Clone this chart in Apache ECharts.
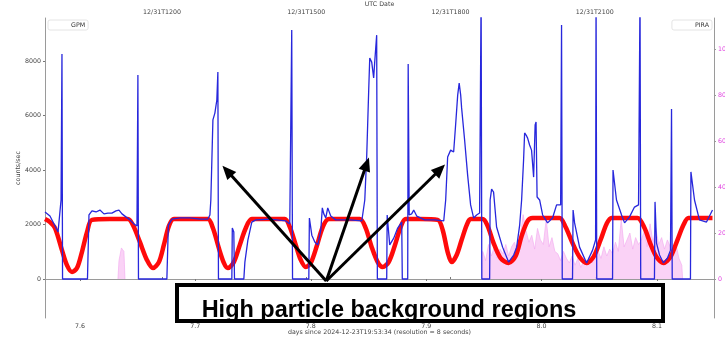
<!DOCTYPE html>
<html>
<head>
<meta charset="utf-8">
<script src="https://cdn.jsdelivr.net/npm/echarts@6/dist/echarts.min.js"></script>
<style>
html, body { margin: 0; padding: 0; background: #fff; }
#chart { width: 725px; height: 338px; }
</style>
</head>
<body>
<div id="chart"></div>
<script>
// GPM count rate (blue), days since 2024-12-23T19:53:34
var gpmDays = [7.5697, 7.5740, 7.5784, 7.5810, 7.5836, 7.5844, 7.5849, 7.6065, 7.6078, 7.6104,
  7.6139, 7.6173, 7.6208, 7.6242, 7.6277, 7.6312, 7.6338, 7.6364, 7.6398, 7.6433,
  7.6468, 7.6494, 7.6502, 7.6507, 7.6753, 7.6766, 7.6797, 7.6866, 7.6952, 7.7039,
  7.7108, 7.7126, 7.7134, 7.7143, 7.7152, 7.7169, 7.7177, 7.7186, 7.7195, 7.7200,
  7.7316, 7.7320, 7.7333, 7.7339, 7.7420, 7.7429, 7.7455, 7.7489, 7.7524, 7.7645,
  7.7784, 7.7818, 7.7835, 7.7842, 7.7983, 7.7988, 7.8009, 7.8035, 7.8061, 7.8087,
  7.8100, 7.8113, 7.8130, 7.8147, 7.8173, 7.8216, 7.8338, 7.8442, 7.8468, 7.8485,
  7.8502, 7.8511, 7.8528, 7.8545, 7.8554, 7.8571, 7.8577, 7.8658, 7.8662, 7.8684,
  7.8719, 7.8753, 7.8788, 7.8793, 7.8840, 7.8844, 7.8853, 7.8874, 7.8892, 7.8918,
  7.8987, 7.9074, 7.9152, 7.9169, 7.9186, 7.9212, 7.9238, 7.9255, 7.9273, 7.9286,
  7.9299, 7.9307, 7.9333, 7.9359, 7.9385, 7.9411, 7.9437, 7.9463, 7.9476, 7.9482,
  7.9550, 7.9554, 7.9567, 7.9584, 7.9610, 7.9662, 7.9714, 7.9758, 7.9784, 7.9810,
  7.9827, 7.9844, 7.9853, 7.9870, 7.9879, 7.9896, 7.9913, 7.9931, 7.9944, 7.9952,
  7.9961, 7.9983, 8.0009, 8.0052, 8.0095, 8.0130, 8.0165, 8.0173, 8.0179, 8.0268,
  8.0273, 8.0286, 8.0329, 8.0390, 8.0442, 8.0468, 8.0472, 8.0478, 8.0615, 8.0619,
  8.0649, 8.0693, 8.0719, 8.0762, 8.0805, 8.0840, 8.0853, 8.0859, 8.0978, 8.0983,
  8.0996, 8.1022, 8.1056, 8.1091, 8.1117, 8.1126, 8.1132, 8.1290, 8.1294, 8.1325,
  8.1368, 8.1429, 8.1481];
var gpmCounts = [2460, 2310, 1945, 1725, 2900, 8260, 0, 0, 2350, 2500,
  2460, 2530, 2390, 2420, 2420, 2500, 2530, 2390, 2280, 2170,
  2020, 1945, 7490, 0, 0, 1980, 2200, 2240, 2240, 2200,
  2200, 2350, 2900, 4370, 5840, 6090, 6020, 6570, 7600, 0,
  0, 1870, 1725, 0, 0, 620, 1430, 2090, 2170, 2200,
  2130, 2020, 9140, 0, 0, 2240, 1610, 1360, 1250, 1800,
  2610, 2390, 2240, 2610, 2310, 2170, 2170, 2130, 2900, 4550,
  6940, 8110, 7960, 7380, 7960, 8950, 0, 0, 2350, 1250,
  1500, 1870, 2090, 0, 0, 7890, 2350, 2390, 2530, 2310,
  2170, 2170, 2130, 2900, 4480, 4730, 4660, 5650, 6750, 7190,
  6750, 6280, 5100, 3820, 2720, 2240, 2350, 2420, 10500, 0,
  0, 2900, 3300, 3190, 1910, 1170, 620, 880, 1170, 1980,
  2900, 4370, 5360, 5250, 5170, 4920, 4730, 3740, 5650, 5760,
  3010, 2900, 2350, 2060, 2240, 2720, 2720, 9320, 0, 0,
  2530, 2060, 1170, 590, 1060, 1430, 10500, 0, 0, 4000,
  2900, 2350, 2060, 2280, 2640, 2720, 10500, 0, 0, 2830,
  1320, 880, 590, 770, 1060, 6240, 0, 0, 3930, 2900,
  2170, 2090, 2530];

// red curve (thick, noisy band)
var fitDays = [7.5697, 7.5740, 7.5784, 7.5844, 7.5887, 7.5931, 7.5974, 7.6017, 7.6061, 7.6104,
  7.6260, 7.6416, 7.6459, 7.6519, 7.6580, 7.6632, 7.6684, 7.6727, 7.6771, 7.6814,
  7.6952, 7.7108, 7.7152, 7.7203, 7.7247, 7.7281, 7.7333, 7.7385, 7.7437, 7.7489,
  7.7645, 7.7775, 7.7818, 7.7870, 7.7913, 7.7957, 7.8000, 7.8052, 7.8104, 7.8156,
  7.8294, 7.8424, 7.8476, 7.8528, 7.8580, 7.8623, 7.8675, 7.8727, 7.8779, 7.8823,
  7.8944, 7.9100, 7.9143, 7.9186, 7.9221, 7.9264, 7.9307, 7.9351, 7.9385, 7.9489,
  7.9532, 7.9584, 7.9645, 7.9714, 7.9775, 7.9827, 7.9879, 7.9922, 8.0026, 8.0156,
  8.0208, 8.0268, 8.0329, 8.0390, 8.0450, 8.0511, 8.0563, 8.0606, 8.0719, 8.0831,
  8.0892, 8.0944, 8.0996, 8.1056, 8.1117, 8.1177, 8.1229, 8.1273, 8.1368, 8.1481];
var fitCounts = [2200, 2090, 1870, 1060, 510, 260, 400, 990, 1720, 2170,
  2200, 2200, 1980, 1360, 700, 400, 620, 1250, 1950, 2200,
  2200, 2200, 1870, 1140, 590, 400, 620, 1250, 1870, 2200,
  2200, 2200, 1910, 1250, 700, 440, 590, 1210, 1910, 2200,
  2200, 2200, 1870, 1170, 620, 440, 620, 1210, 1910, 2200,
  2200, 2170, 1800, 990, 620, 880, 1430, 1980, 2200, 2200,
  1950, 1320, 770, 590, 840, 1580, 2130, 2240, 2240, 2240,
  1910, 1320, 810, 590, 810, 1430, 2020, 2240, 2240, 2240,
  1870, 1280, 810, 590, 810, 1430, 1980, 2240, 2240, 2240];

// PIRA (pink, right axis); null splits the two bursts
var piraDays = [7.6329, 7.6338, 7.6359, 7.6381, 7.6390, 7.7000, 7.9488,
  7.9490, 7.9515, 7.9540, 7.9565, 7.9590, 7.9615, 7.9640, 7.9665, 7.9690, 7.9715,
  7.9740, 7.9765, 7.9790, 7.9815, 7.9840, 7.9865, 7.9890, 7.9915, 7.9940, 7.9965,
  7.9990, 8.0015, 8.0040, 8.0065, 8.0090, 8.0115, 8.0140, 8.0165, 8.0190, 8.0215,
  8.0240, 8.0265, 8.0290, 8.0315, 8.0340, 8.0365, 8.0390, 8.0415, 8.0440, 8.0465,
  8.0490, 8.0515, 8.0540, 8.0565, 8.0590, 8.0615, 8.0640, 8.0665, 8.0690, 8.0715,
  8.0740, 8.0765, 8.0790, 8.0815, 8.0840, 8.0865, 8.0890, 8.0915, 8.0940, 8.0965,
  8.0990, 8.1015, 8.1040, 8.1065, 8.1090, 8.1115, 8.1140, 8.1165, 8.1190, 8.1215, 8.1222];
var piraRate = [0, 8, 13.5, 12, 0, null, 0,
  12, 8, 15, 10, 14, 9, 13, 11, 15, 10,
  14, 16, 11, 18, 28, 21, 16, 19, 13, 22,
  17, 15, 26, 14, 18, 12, 11, 8, 12, 9,
  7, 10, 6, 9, 5, 8, 6, 10, 7, 11,
  12, 9, 14, 10, 13, 11, 16, 12, 26, 14,
  17, 20, 13, 18, 15, 17, 21, 14, 24, 16,
  22, 15, 18, 13, 17, 14, 10, 15, 9, 6, 0];

var dayTicks = [7.6, 7.7, 7.8, 7.9, 8.0, 8.1];
var utcTicks = [7.67113, 7.79613, 7.92113, 8.04613];
var utcLabels = ['12/31T1200', '12/31T1500', '12/31T1800', '12/31T2100'];
var countTicks = [0, 2000, 4000, 6000, 8000];
var piraTicks = [0, 20, 40, 60, 80, 100];

// annotation arrows [day, counts]
var arrowTail = [7.8134, -75];
var arrowHeads = [[7.7275, 3970], [7.8484, 4220], [7.9120, 4020]];

var myChart = echarts.init(document.getElementById('chart'));

function pairs(xs, ys) {
  return xs.map(function (x, i) { return [x, ys[i]]; });
}

var axisFont = { fontFamily: 'DejaVu Sans', fontSize: 6.3, color: '#444' };

var option = {
  animation: false,
  grid: { left: 45, right: 11, top: 18, bottom: 20, containLabel: false, outerBoundsMode: 'none' },
  legend: [
    {
      data: ['GPM'], left: 48, top: 20, padding: [2, 3, 2, 3],
      itemWidth: 14, itemHeight: 5,
      itemStyle: { opacity: 0 }, lineStyle: { opacity: 0 },
      backgroundColor: '#fff', borderColor: '#ddd', borderWidth: 0.8, borderRadius: 2,
      textStyle: { fontFamily: 'DejaVu Sans', fontSize: 6.3, color: '#333' }
    },
    {
      data: ['PIRA'], right: 13, top: 20, padding: [2, 3, 2, 3],
      itemWidth: 14, itemHeight: 5,
      itemStyle: { opacity: 0 }, lineStyle: { opacity: 0 },
      backgroundColor: '#fff', borderColor: '#ddd', borderWidth: 0.8, borderRadius: 2,
      textStyle: { fontFamily: 'DejaVu Sans', fontSize: 6.3, color: '#333' }
    }
  ],
  xAxis: [
    {
      type: 'value', position: 'bottom', min: 7.5697, max: 8.1494,
      name: 'days since 2024-12-23T19:53:34 (resolution = 8 seconds)',
      nameLocation: 'middle', nameGap: 11, nameMoveOverlap: false, nameTextStyle: axisFont,
      axisLine: { lineStyle: { color: '#9a9a9a' } },
      axisTick: { customValues: dayTicks, length: 2, lineStyle: { color: '#777' } },
      axisLabel: {
        customValues: dayTicks, margin: 5,
        formatter: function (v) { return v.toFixed(1); },
        fontFamily: axisFont.fontFamily, fontSize: axisFont.fontSize, color: axisFont.color
      },
      splitLine: { show: false }
    },
    {
      type: 'value', position: 'top', min: 7.5697, max: 8.1494,
      name: 'UTC Date', nameLocation: 'middle', nameGap: 10.5, nameMoveOverlap: false, nameTextStyle: axisFont,
      axisLine: { lineStyle: { color: '#9a9a9a' } },
      axisTick: { customValues: utcTicks, length: 2, lineStyle: { color: '#777' } },
      axisLabel: {
        customValues: utcTicks, margin: 3,
        formatter: function (v) {
          var i = utcTicks.indexOf(v);
          return i >= 0 ? utcLabels[i] : '';
        },
        fontFamily: axisFont.fontFamily, fontSize: axisFont.fontSize, color: axisFont.color
      },
      splitLine: { show: false }
    }
  ],
  yAxis: [
    {
      type: 'value', position: 'left', min: -1431, max: 9579,
      name: 'counts/sec', nameLocation: 'middle', nameGap: 23.5, nameMoveOverlap: false, nameTextStyle: axisFont,
      axisLine: { show: true, lineStyle: { color: '#9a9a9a' } },
      axisTick: { show: true, customValues: countTicks, length: 2, lineStyle: { color: '#777' } },
      axisLabel: {
        customValues: countTicks, margin: 4,
        formatter: function (v) { return String(v); },
        fontFamily: axisFont.fontFamily, fontSize: axisFont.fontSize, color: axisFont.color
      },
      splitLine: { show: false }
    },
    {
      type: 'value', position: 'right', min: -16.96, max: 113.5,
      axisLine: { show: true, lineStyle: { color: '#9a9a9a' } },
      axisTick: { show: true, customValues: piraTicks, length: 2, lineStyle: { color: '#999' } },
      axisLabel: {
        customValues: piraTicks, margin: 4,
        formatter: function (v) { return String(v); },
        fontFamily: axisFont.fontFamily, fontSize: axisFont.fontSize, color: '#e040e0'
      },
      splitLine: { show: false }
    }
  ],
  series: [
    {
      name: 'PIRA', type: 'line', yAxisIndex: 1, z: 1,
      data: pairs(piraDays, piraRate),
      showSymbol: false, connectNulls: false,
      lineStyle: { color: '#f2a6ee', width: 0.6 },
      itemStyle: { color: '#f2a6ee' },
      areaStyle: { color: '#f9cdf5', opacity: 0.9 }
    },
    {
      name: 'Model', type: 'line', z: 2,
      data: pairs(fitDays, fitCounts),
      showSymbol: false, smooth: 0.3,
      lineStyle: { color: '#ff0a0a', width: 4.5 },
      itemStyle: { color: '#ff0a0a' }
    },
    {
      name: 'GPM', type: 'line', z: 3,
      data: pairs(gpmDays, gpmCounts),
      showSymbol: false,
      lineStyle: { color: '#2727dc', width: 1.3 },
      itemStyle: { color: '#2727dc' },
      markLine: {
        silent: true,
        symbol: ['none', 'triangle'],
        symbolSize: [12, 14],
        lineStyle: { color: '#000', width: 3, type: 'solid' },
        label: { show: false },
        emphasis: { disabled: true },
        data: arrowHeads.map(function (h) {
          return [{ coord: arrowTail }, { coord: h }];
        })
      }
    }
  ],
  graphic: [
    {
      type: 'rect', z: 100,
      shape: { x: 177, y: 285, width: 486, height: 36 },
      style: { fill: '#fff', stroke: '#000', lineWidth: 4 }
    },
    {
      type: 'text', z: 101, x: 389, y: 311,
      style: {
        text: 'High particle background regions',
        font: 'bold 23.5px "Liberation Sans", Arial, sans-serif',
        fill: '#000', align: 'center', verticalAlign: 'middle'
      }
    }
  ]
};

myChart.setOption(option);
</script>
</body>
</html>
